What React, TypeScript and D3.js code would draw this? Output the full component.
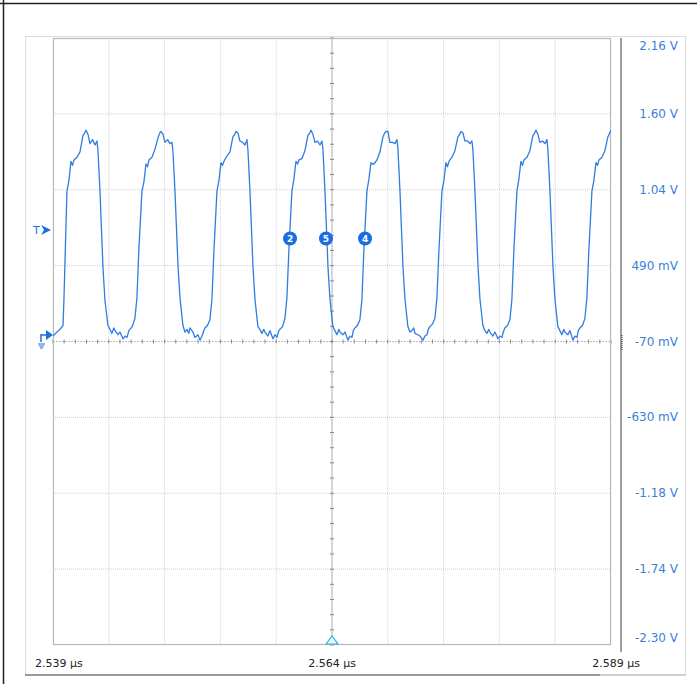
import React from "react";
import * as d3 from "d3";

// time in ns after 2.539 µs
const timeNs = [
  0.0, 0.36, 0.63, 0.9, 0.98, 1.25, 1.43, 1.61, 1.75, 1.88, 2.15, 2.42, 2.68, 2.85, 2.95, 3.13, 3.31, 3.55, 3.76, 3.94, 4.03, 4.21, 4.48, 4.66, 4.92, 5.1, 5.28, 5.45, 5.56, 5.82, 6.0, 6.27, 6.45, 6.63, 6.8, 6.89, 7.1, 7.34, 7.52, 7.7, 7.97,
  8.15, 8.33, 8.47, 8.6, 8.87, 9.14, 9.4, 9.57, 9.67, 9.85, 10.03, 10.27, 10.48, 10.66, 10.75, 10.93, 11.2, 11.38, 11.64, 11.82, 12.0, 12.17, 12.27, 12.54, 12.72, 12.99, 13.17, 13.35, 13.47, 13.61, 13.85, 14.06, 14.24, 14.42, 14.69,
  14.87, 15.05, 15.19, 15.32, 15.59, 15.86, 16.12, 16.29, 16.39, 16.57, 16.75, 16.99, 17.2, 17.38, 17.47, 17.65, 17.92, 18.1, 18.36, 18.54, 18.72, 18.89, 18.99, 19.26, 19.44, 19.71, 19.89, 20.07, 20.19, 20.33, 20.57, 20.78, 20.96, 21.14, 21.41,
  21.59, 21.77, 21.91, 22.04, 22.31, 22.58, 22.84, 23.01, 23.11, 23.29, 23.47, 23.71, 23.92, 24.1, 24.19, 24.37, 24.64, 24.82, 25.08, 25.26, 25.44, 25.61, 25.71, 25.98, 26.16, 26.43, 26.61, 26.79, 26.91, 27.05, 27.29, 27.5, 27.68, 27.86, 28.13,
  28.31, 28.49, 28.63, 28.76, 29.03, 29.3, 29.56, 29.73, 29.83, 30.01, 30.19, 30.43, 30.64, 30.82, 30.91, 31.09, 31.36, 31.54, 31.8, 31.98, 32.16, 32.33, 32.43, 32.7, 32.88, 33.15, 33.33, 33.51, 33.63, 33.77, 34.01, 34.22, 34.4, 34.58, 34.85,
  35.03, 35.21, 35.35, 35.48, 35.75, 36.02, 36.28, 36.45, 36.55, 36.73, 36.91, 37.15, 37.36, 37.54, 37.63, 37.81, 38.08, 38.26, 38.52, 38.7, 38.88, 39.05, 39.15, 39.42, 39.6, 39.87, 40.05, 40.23, 40.35, 40.49, 40.73, 40.94, 41.12, 41.3, 41.57,
  41.75, 41.93, 42.07, 42.2, 42.47, 42.74, 43.0, 43.17, 43.27, 43.45, 43.63, 43.87, 44.08, 44.26, 44.35, 44.53, 44.8, 44.98, 45.24, 45.42, 45.6, 45.77, 45.87, 46.14, 46.32, 46.59, 46.77, 46.95, 47.07, 47.21, 47.45, 47.66, 47.84, 48.02, 48.29,
  48.47, 48.65, 48.79, 48.92, 49.19, 49.46, 49.72, 49.89, 50.0,
];

// voltage in V
const voltage = [
  -0.03, 0.0, 0.02, 0.05, 0.24, 1.04, 1.12, 1.26, 1.23, 1.27, 1.29, 1.33, 1.45, 1.47, 1.49, 1.46, 1.39, 1.42, 1.38, 1.41, 1.34, 1.04, 0.47, 0.23, 0.05, 0.02, -0.01, 0.03, 0.01, -0.02, 0.0, -0.05, -0.03, -0.04, 0.01, 0.02, 0.04, 0.1, 0.25, 0.62, 1.04,
  1.11, 1.24, 1.22, 1.27, 1.29, 1.35, 1.43, 1.47, 1.48, 1.46, 1.4, 1.42, 1.39, 1.4, 1.33, 1.04, 0.49, 0.25, 0.05, 0.0, 0.02, -0.01, 0.03, 0.0, -0.04, -0.02, -0.06, -0.03, 0.0, 0.03, 0.05, 0.09, 0.24, 0.6, 1.04,
  1.12, 1.25, 1.23, 1.26, 1.3, 1.33, 1.44, 1.46, 1.48, 1.47, 1.41, 1.4, 1.38, 1.42, 1.34, 1.04, 0.48, 0.24, 0.04, 0.02, -0.01, 0.02, 0.0, -0.03, 0.01, -0.05, -0.02, -0.04, 0.0, 0.02, 0.04, 0.1, 0.25, 0.61, 1.04,
  1.13, 1.26, 1.24, 1.27, 1.28, 1.34, 1.45, 1.47, 1.49, 1.46, 1.4, 1.41, 1.38, 1.41, 1.35, 1.04, 0.48, 0.24, 0.04, 0.01, -0.02, 0.02, 0.0, -0.02, 0.0, -0.06, -0.03, -0.04, 0.01, 0.03, 0.05, 0.09, 0.24, 0.61, 1.04,
  1.13, 1.25, 1.24, 1.24, 1.27, 1.33, 1.44, 1.47, 1.48, 1.48, 1.4, 1.4, 1.39, 1.42, 1.35, 1.04, 0.48, 0.24, 0.04, 0.0, 0.01, 0.03, -0.01, -0.02, -0.03, -0.06, -0.03, -0.02, 0.02, 0.04, 0.06, 0.1, 0.25, 0.6, 1.04,
  1.12, 1.25, 1.22, 1.26, 1.29, 1.34, 1.44, 1.46, 1.48, 1.47, 1.41, 1.41, 1.39, 1.41, 1.34, 1.04, 0.49, 0.24, 0.05, 0.01, -0.01, 0.02, 0.0, -0.03, 0.0, -0.05, -0.03, -0.04, 0.0, 0.03, 0.05, 0.09, 0.24, 0.61, 1.04,
  1.13, 1.26, 1.23, 1.27, 1.29, 1.34, 1.45, 1.47, 1.49, 1.46, 1.4, 1.41, 1.39, 1.42, 1.34, 1.04, 0.48, 0.24, 0.04, 0.01, -0.02, 0.02, 0.0, -0.02, 0.01, -0.06, -0.03, -0.04, 0.01, 0.03, 0.05, 0.1, 0.25, 0.61, 1.04,
  1.12, 1.25, 1.23, 1.27, 1.29, 1.34, 1.44, 1.47, 1.49,
];

const gridVolts = [2.17, 1.61, 1.05, 0.49, -0.07, -0.63, -1.19, -1.75, -2.31];
const voltLabels = ["2.16 V", "1.60 V", "1.04 V", "490 mV", "-70 mV", "-630 mV", "-1.18 V", "-1.74 V", "-2.30 V"];
const gridTimes = [0, 5, 10, 15, 20, 25, 30, 35, 40, 45, 50];
const timeLabels = ["2.539 µs", "2.564 µs", "2.589 µs"];
const markerLabels = ["2", "5", "4"];
const markerTimes = [21.24, 24.46, 27.96];
const markerVolt = 0.69;

export default function App() {
  const W = 697, H = 684;
  const L = 53, R = 611, T = 38, B = 645;
  const x = d3.scaleLinear().domain([0, 50]).range([L, R]);
  const y = d3.scaleLinear().domain([-2.31, 2.17]).range([B, T]);
  const pts: [number, number][] = timeNs.map((t, i) => [t, voltage[i]]);
  const line = d3.line<[number, number]>().x((d) => x(d[0])).y((d) => y(d[1]));
  const blue = "#2f7de1";
  const labelBlue = "#3a7fd6";
  const minorX = d3.range(0, 50.001, 1);
  const minorY = d3.range(-2.31, 2.1701, 0.112);
  const cx = x(25), cy = y(-0.07);
  const font = "'DejaVu Sans', Verdana, sans-serif";

  return (
    <svg width={W} height={H} style={{ position: "absolute", left: 0, top: 0, background: "#fff" }}>
      {/* outer frame */}
      <line x1={0} x2={W} y1={3.5} y2={3.5} stroke="#222" strokeWidth={1.5} />
      <line x1={3.5} x2={3.5} y1={0} y2={H} stroke="#222" strokeWidth={1.5} />
      {/* panel */}
      <rect x={25.5} y={36.5} width={660} height={638} fill="#fff" stroke="#dcdcdc" strokeWidth={1} />
      <line x1={25} x2={600} y1={675} y2={675} stroke="#9a9a9a" strokeWidth={2} />
      <line x1={600} x2={686} y1={675} y2={675} stroke="#d0d0d0" strokeWidth={2} />
      {/* grid */}
      {gridTimes.slice(1, -1).map((t) => (
        <line key={"gx" + t} x1={x(t)} x2={x(t)} y1={T} y2={B} stroke="#cfcfcf" strokeWidth={1} strokeDasharray={t === 25 ? "2,1" : "1,1"} />
      ))}
      {gridVolts.slice(1, -1).map((v) => (
        <line key={"gy" + v} x1={L} x2={R} y1={y(v)} y2={y(v)} stroke="#cfcfcf" strokeWidth={1} strokeDasharray={v === -0.07 ? "2,1" : "1,1"} />
      ))}
      <line x1={cx} x2={cx} y1={T} y2={B} stroke="#bdbdbd" strokeWidth={1} />
      <line x1={L} x2={R} y1={cy} y2={cy} stroke="#bdbdbd" strokeWidth={1} strokeDasharray="2,1" />
      {minorX.map((t) => (
        <line key={"mx" + t} x1={x(t)} x2={x(t)} y1={cy - 2} y2={cy + 2} stroke="#888" strokeWidth={1} />
      ))}
      {minorY.map((v, i) => (
        <line key={"my" + i} x1={cx - 2} x2={cx + 2} y1={y(v)} y2={y(v)} stroke="#888" strokeWidth={1} />
      ))}
      <rect x={L + 0.5} y={T + 0.5} width={R - L - 1} height={B - T - 1} fill="none" stroke="#b8b8b8" strokeWidth={1.2} />
      {/* right axis bar */}
      <line x1={621} x2={621} y1={T} y2={652} stroke="#9c9c9c" strokeWidth={2} />
      <line x1={622} x2={622} y1={335} y2={351} stroke="#333" strokeWidth={1} strokeDasharray="1,1" />
      {gridVolts.map((v, i) => {
        let yy = y(v) + 4;
        if (i === 0) yy = y(v) + 12;
        if (i === gridVolts.length - 1) yy = y(v) - 3;
        return (
          <text key={"yl" + i} x={678} y={yy} textAnchor="end" fontSize={12} fill={labelBlue} fontFamily={font}>
            {voltLabels[i]}
          </text>
        );
      })}
      {/* time labels */}
      <text x={35} y={667} fontSize={11} fill="#222" fontFamily={font}>{timeLabels[0]}</text>
      <text x={cx} y={667} textAnchor="middle" fontSize={11} fill="#222" fontFamily={font}>{timeLabels[1]}</text>
      <text x={640} y={667} textAnchor="end" fontSize={11} fill="#222" fontFamily={font}>{timeLabels[2]}</text>
      {/* trace */}
      <defs>
        <clipPath id="plotClip">
          <rect x={L} y={T} width={R - L} height={B - T} />
        </clipPath>
      </defs>
      <path d={line(pts) || ""} fill="none" stroke={blue} strokeWidth={1.3} strokeLinejoin="round" clipPath="url(#plotClip)" />
      {/* markers */}
      {markerLabels.map((m, i) => (
        <g key={"mk" + m} transform={`translate(${x(markerTimes[i])},${y(markerVolt)})`}>
          <circle r={7} fill="#1a6fe0" />
          <text y={3.5} textAnchor="middle" fontSize={9} fontWeight="bold" fill="#fff" fontFamily={font}>{m}</text>
        </g>
      ))}
      {/* trigger marker */}
      <text x={33} y={234} fontSize={11} fill="#1a6fe0" fontFamily={font}>T</text>
      <path d="M41,225 L51,230 L41,235 L44,230 Z" fill="#1a6fe0" />
      {/* ground marker */}
      <path d="M46,330 L53,335 L46,340 Z" fill="#1a6fe0" />
      <line x1={41} x2={41} y1={334} y2={342} stroke="#1a6fe0" strokeWidth={1.5} />
      <line x1={41} x2={47} y1={335} y2={335} stroke="#1a6fe0" strokeWidth={1.5} />
      <line x1={38} x2={45} y1={344} y2={344} stroke="#1a6fe0" strokeWidth={1} />
      <line x1={39} x2={44} y1={346} y2={346} stroke="#1a6fe0" strokeWidth={1} />
      <line x1={40} x2={43} y1={348} y2={348} stroke="#1a6fe0" strokeWidth={1} />
      {/* time reference triangle */}
      <path d={`M${cx - 6},${B - 1} L${cx},${B - 9} L${cx + 6},${B - 1} Z`} fill="#e8f8fb" stroke="#28b4d8" strokeWidth={1.2} />
    </svg>
  );
}
